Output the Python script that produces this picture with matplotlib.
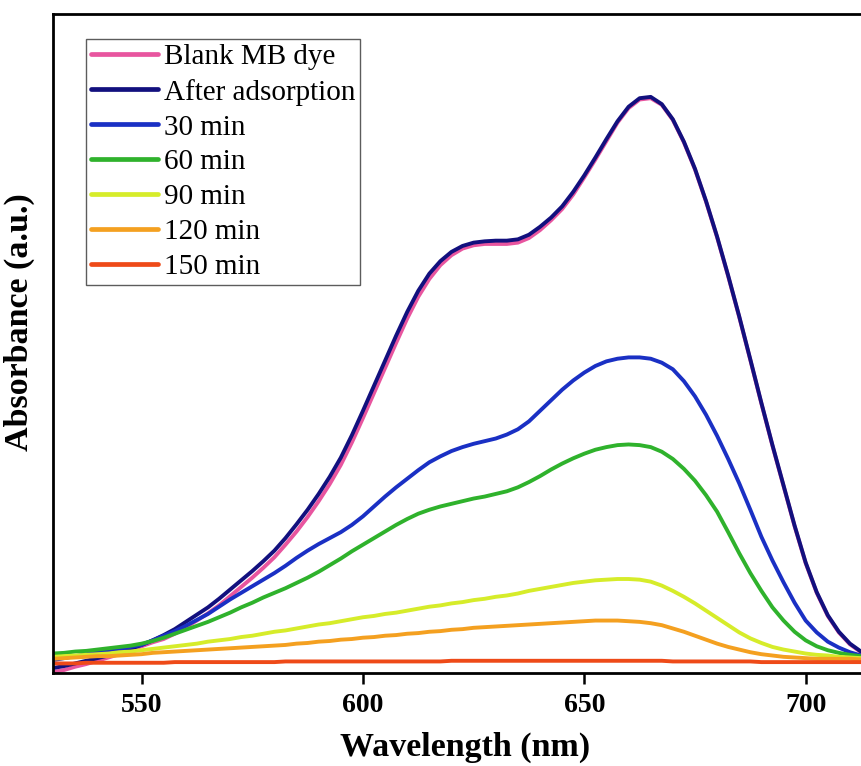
import matplotlib
matplotlib.use("Agg")
import matplotlib.pyplot as plot

#Wavelength grid shared by every spectrum (nm)
wavelength = [530, 532.5, 535, 537.5, 540, 542.5, 545, 547.5, 550, 552.5,
              555, 557.5, 560, 562.5, 565, 567.5, 570, 572.5, 575, 577.5,
              580, 582.5, 585, 587.5, 590, 592.5, 595, 597.5, 600, 602.5,
              605, 607.5, 610, 612.5, 615, 617.5, 620, 622.5, 625, 627.5,
              630, 632.5, 635, 637.5, 640, 642.5, 645, 647.5, 650, 652.5,
              655, 657.5, 660, 662.5, 665, 667.5, 670, 672.5, 675, 677.5,
              680, 682.5, 685, 687.5, 690, 692.5, 695, 697.5, 700, 702.5,
              705, 707.5, 710, 712.5, 715]

#Absorbance readings (a.u.)
blankDye = [0.002, 0.005, 0.010, 0.014, 0.019, 0.024, 0.029, 0.035, 0.041, 0.047,
            0.052, 0.060, 0.070, 0.080, 0.091, 0.103, 0.117, 0.131, 0.145, 0.160,
            0.176, 0.195, 0.215, 0.237, 0.261, 0.287, 0.316, 0.350, 0.387, 0.425,
            0.463, 0.501, 0.538, 0.571, 0.598, 0.619, 0.634, 0.644, 0.649, 0.651,
            0.651, 0.651, 0.653, 0.660, 0.672, 0.687, 0.704, 0.726, 0.752, 0.779,
            0.807, 0.835, 0.857, 0.870, 0.872, 0.862, 0.839, 0.805, 0.764, 0.715,
            0.661, 0.602, 0.540, 0.475, 0.409, 0.345, 0.284, 0.223, 0.167, 0.122,
            0.087, 0.062, 0.044, 0.032, 0.024]
afterAdsorption = [0.008, 0.011, 0.015, 0.019, 0.023, 0.027, 0.032, 0.037, 0.043, 0.050,
                   0.058, 0.067, 0.078, 0.089, 0.100, 0.113, 0.127, 0.141, 0.155, 0.170,
                   0.186, 0.205, 0.226, 0.248, 0.272, 0.298, 0.327, 0.361, 0.398, 0.436,
                   0.474, 0.512, 0.548, 0.580, 0.606, 0.625, 0.639, 0.648, 0.653, 0.655,
                   0.656, 0.656, 0.658, 0.665, 0.677, 0.691, 0.708, 0.730, 0.755, 0.782,
                   0.810, 0.837, 0.859, 0.872, 0.874, 0.863, 0.840, 0.806, 0.765, 0.716,
                   0.662, 0.603, 0.541, 0.476, 0.410, 0.346, 0.285, 0.224, 0.168, 0.123,
                   0.088, 0.063, 0.045, 0.033, 0.025]
min30 = [0.020, 0.023, 0.026, 0.029, 0.032, 0.035, 0.037, 0.040, 0.043, 0.050,
         0.057, 0.064, 0.072, 0.081, 0.090, 0.101, 0.112, 0.122, 0.132, 0.142,
         0.152, 0.163, 0.175, 0.186, 0.196, 0.205, 0.214, 0.225, 0.238, 0.253,
         0.268, 0.282, 0.295, 0.308, 0.320, 0.329, 0.337, 0.343, 0.348, 0.352,
         0.356, 0.362, 0.370, 0.382, 0.398, 0.414, 0.430, 0.444, 0.456, 0.466,
         0.473, 0.477, 0.479, 0.479, 0.477, 0.471, 0.461, 0.443, 0.420, 0.392,
         0.360, 0.325, 0.288, 0.248, 0.207, 0.171, 0.138, 0.107, 0.080, 0.062,
         0.048, 0.039, 0.032, 0.027, 0.024]
min60 = [0.030, 0.031, 0.033, 0.034, 0.036, 0.038, 0.040, 0.042, 0.045, 0.049,
         0.054, 0.060, 0.066, 0.072, 0.078, 0.085, 0.092, 0.100, 0.107, 0.115,
         0.122, 0.129, 0.137, 0.145, 0.154, 0.164, 0.174, 0.185, 0.195, 0.205,
         0.215, 0.225, 0.234, 0.242, 0.248, 0.253, 0.257, 0.261, 0.265, 0.268,
         0.272, 0.276, 0.282, 0.290, 0.299, 0.309, 0.318, 0.326, 0.333, 0.339,
         0.343, 0.346, 0.347, 0.346, 0.343, 0.336, 0.325, 0.310, 0.292, 0.270,
         0.245, 0.214, 0.182, 0.152, 0.125, 0.100, 0.080, 0.063, 0.050, 0.041,
         0.035, 0.031, 0.028, 0.026, 0.024]
min90 = [0.025, 0.026, 0.027, 0.028, 0.029, 0.030, 0.032, 0.033, 0.035, 0.037,
         0.039, 0.041, 0.043, 0.045, 0.048, 0.050, 0.052, 0.055, 0.057, 0.060,
         0.063, 0.065, 0.068, 0.071, 0.074, 0.076, 0.079, 0.082, 0.085, 0.087,
         0.090, 0.092, 0.095, 0.098, 0.101, 0.103, 0.106, 0.108, 0.111, 0.113,
         0.116, 0.118, 0.121, 0.125, 0.128, 0.131, 0.134, 0.137, 0.139, 0.141,
         0.142, 0.143, 0.143, 0.142, 0.139, 0.133, 0.125, 0.116, 0.106, 0.095,
         0.084, 0.073, 0.062, 0.053, 0.046, 0.040, 0.036, 0.033, 0.030, 0.028,
         0.027, 0.025, 0.024, 0.023, 0.023]
min120 = [0.022, 0.023, 0.024, 0.025, 0.026, 0.026, 0.027, 0.028, 0.029, 0.031,
          0.032, 0.033, 0.034, 0.035, 0.036, 0.037, 0.038, 0.039, 0.040, 0.041,
          0.042, 0.043, 0.045, 0.046, 0.048, 0.049, 0.051, 0.052, 0.054, 0.055,
          0.057, 0.058, 0.060, 0.061, 0.063, 0.064, 0.066, 0.067, 0.069, 0.070,
          0.071, 0.072, 0.073, 0.074, 0.075, 0.076, 0.077, 0.078, 0.079, 0.080,
          0.080, 0.080, 0.079, 0.078, 0.076, 0.073, 0.068, 0.063, 0.057, 0.051,
          0.045, 0.040, 0.036, 0.032, 0.029, 0.027, 0.025, 0.024, 0.023, 0.022,
          0.022, 0.022, 0.022, 0.021, 0.021]
min150 = [0.015, 0.015, 0.015, 0.016, 0.016, 0.016, 0.016, 0.016, 0.016, 0.016,
          0.016, 0.017, 0.017, 0.017, 0.017, 0.017, 0.017, 0.017, 0.017, 0.017,
          0.017, 0.018, 0.018, 0.018, 0.018, 0.018, 0.018, 0.018, 0.018, 0.018,
          0.018, 0.018, 0.018, 0.018, 0.018, 0.018, 0.019, 0.019, 0.019, 0.019,
          0.019, 0.019, 0.019, 0.019, 0.019, 0.019, 0.019, 0.019, 0.019, 0.019,
          0.019, 0.019, 0.019, 0.019, 0.019, 0.019, 0.018, 0.018, 0.018, 0.018,
          0.018, 0.018, 0.018, 0.018, 0.017, 0.017, 0.017, 0.017, 0.017, 0.017,
          0.017, 0.017, 0.017, 0.017, 0.017]

labels = ["Blank MB dye", "After adsorption", "30 min", "60 min", "90 min", "120 min", "150 min"]
colours = ["#e8559f", "#12107e", "#1a30c4", "#2fb22c", "#d6ec2a", "#f4a020", "#ee4a18"]
series = [blankDye, afterAdsorption, min30, min60, min90, min120, min150]

plot.rcParams['font.family'] = ['Liberation Serif', 'DejaVu Serif']

figure = plot.figure(figsize=(8.61, 7.66), dpi=100)
axis = figure.add_axes([0.0616, 0.121, 0.9384, 0.861])

for values, label, colour in zip(series, labels, colours):
    axis.plot(wavelength, values, color=colour, linewidth=2.8, label=label,
              solid_capstyle='round', solid_joinstyle='round')

axis.set_xlim(530, 712.5)
axis.set_ylim(0, 1.0)
axis.set_xticks([550, 600, 650, 700])
axis.set_yticks([])
axis.tick_params(axis='x', direction='out', length=8, width=1.8, labelsize=20, pad=6)
for tickLabel in axis.get_xticklabels():
    tickLabel.set_fontweight('bold')

for side in ['left', 'bottom', 'top']:
    axis.spines[side].set_linewidth(2)
#The original picture is cropped just before the right-hand frame line
axis.spines['right'].set_visible(False)

axis.set_xlabel("Wavelength (nm)", fontsize=24.5, fontweight='bold')
axis.set_ylabel("Absorbance (a.u.)", fontsize=24.5, fontweight='bold')
axis.xaxis.set_label_coords(0.51, -0.089)
axis.yaxis.set_label_coords(-0.022, 0.533)

legend = axis.legend(loc='upper left', bbox_to_anchor=(0.041, 0.962), borderaxespad=0,
                     fontsize=21, frameon=True, fancybox=False, handlelength=2.3,
                     handletextpad=0.2, labelspacing=0.29, borderpad=0.17)
legend.get_frame().set_edgecolor('#333333')
legend.get_frame().set_linewidth(1.0)
for handle in legend.get_lines():
    handle.set_linewidth(3.4)

figure.savefig("out.png", dpi=100)
